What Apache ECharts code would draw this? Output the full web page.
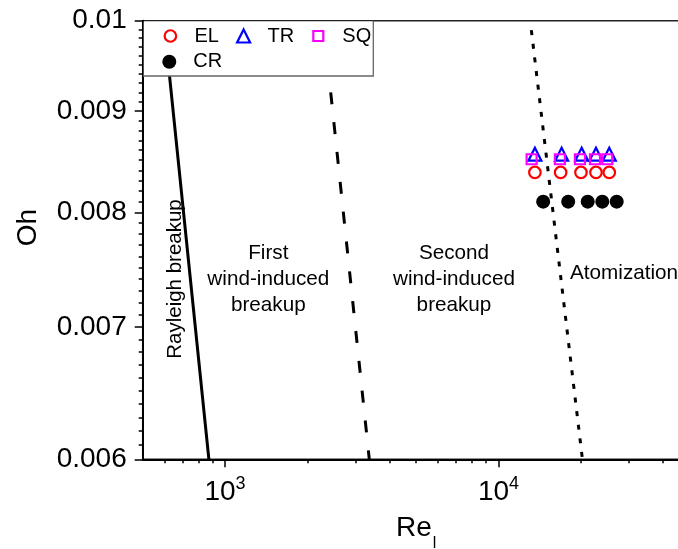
<!DOCTYPE html>
<html>
<head>
<meta charset="utf-8">
<script src="https://cdn.jsdelivr.net/npm/echarts@6/dist/echarts.min.js"></script>
<style>
html,body{margin:0;padding:0;background:#fff;}
#chart{width:678px;height:549px;}
</style>
</head>
<body>
<div id="chart"></div>
<script>
// ---------- data ----------
const xRange = [500, 50000];
const yRange = [0.006, 0.01];

const xMajorTicks = [1000, 10000];
const xTickLabels = ['10^3', '10^4'];
const xMinorTicks = [600, 700, 800, 900, 2000, 3000, 4000, 5000, 6000, 7000, 8000, 9000, 20000, 30000, 40000];

const yMajorTicks = [0.006, 0.007, 0.008, 0.009, 0.01];
const yTickLabels = ['0.006', '0.007', '0.008', '0.009', '0.01'];
const yMinorTicks = [];
for (let i = 61; i < 100; i++) { if (i % 10 !== 0) yMinorTicks.push(i / 10000); }

const elRe = [13590, 16880, 20030, 22730, 25420];
const elOh = [0.00838, 0.00838, 0.00838, 0.00838, 0.00838];
const trRe = [13590, 17020, 20150, 22730, 25420];
const trOh = [0.00856, 0.00856, 0.00856, 0.00856, 0.00856];
const sqRe = [13220, 16770, 19860, 22540, 25000];
const sqOh = [0.00851, 0.00851, 0.00851, 0.00851, 0.00851];
const crRe = [14570, 17990, 21200, 23970, 27060];
const crOh = [0.0081, 0.0081, 0.0081, 0.0081, 0.0081];

const rayleighRe = [602, 873];
const rayleighOh = [0.0099, 0.006];
const firstWindRe = [2435, 3370];
const firstWindOh = [0.0092, 0.006];
const atomRe = [13190, 20280];
const atomOh = [0.00989, 0.006];

// ---------- helpers ----------
const FONT = "'Liberation Sans', Arial, Helvetica, sans-serif";
const zip = (a, b) => a.map((v, i) => [v, b[i]]);

const chart = echarts.init(document.getElementById('chart'), null, {renderer: 'canvas'});

function lineSeries(name, xs, ys, type) {
  return {
    type: 'line', name: name, data: zip(xs, ys), symbol: 'none', silent: true,
    z: 2, clip: true,
    lineStyle: {color: '#000', width: 3, type: type, cap: 'butt'}
  };
}

function markerStyle(color, filled) {
  return filled ? {color: color, borderWidth: 0, opacity: 1}
                : {color: 'rgba(0,0,0,0)', borderColor: color, borderWidth: 2.2, opacity: 1};
}

function scatterSeries(name, xs, ys, symbol, size, color, filled) {
  return {
    type: 'scatter', name: name, data: zip(xs, ys), symbol: symbol, symbolSize: size, z: 3,
    itemStyle: markerStyle(color, filled)
  };
}

function legendFor(name, cx, cy, size, color, filled) {
  return {
    data: [name], left: cx - size / 2, top: cy - 10, padding: 0, orient: 'horizontal',
    itemWidth: size, itemHeight: size, selectedMode: false, z: 5,
    textStyle: {fontSize: 20, fontFamily: FONT, color: '#000', lineHeight: 20,
                padding: [0, 0, 0, 24 - size / 2 - 5]},
    itemStyle: markerStyle(color, filled)
  };
}

const axisLineStyle = {color: '#000', width: 2};
const tickStyle = {color: '#000', width: 1.5};

const option = {
  animation: false,
  backgroundColor: '#fff',
  grid: {
    left: 142.7, right: -11.6, top: 20.7, bottom: 89.7,
    outerBoundsMode: 'none', containLabel: false,
    show: true, borderColor: '#222', borderWidth: 1.5, backgroundColor: 'rgba(0,0,0,0)'
  },
  xAxis: [
    {
      type: 'log', logBase: 10, min: xRange[0], max: xRange[1], position: 'bottom',
      axisLine: {show: true, onZero: false, lineStyle: axisLineStyle},
      axisTick: {show: true, customValues: xMajorTicks, length: 8, lineStyle: tickStyle},
      minorTick: {show: false},
      splitLine: {show: false},
      axisLabel: {
        customValues: xMajorTicks, margin: 16,
        formatter: function (v) {
          const i = xMajorTicks.findIndex(t => Math.abs(t - v) / t < 1e-6);
          if (i < 0) return '';
          const parts = xTickLabels[i].split('^');
          return '{b|' + parts[0] + '}{s|' + parts[1] + '}';
        },
        rich: {
          b: {fontSize: 28, lineHeight: 28, fontFamily: FONT, color: '#000', verticalAlign: 'top', padding: [3, 0, 0, 0]},
          s: {fontSize: 18, lineHeight: 18, fontFamily: FONT, color: '#000', verticalAlign: 'top'}
        }
      },
      name: '{a|Re}{b|l}', nameLocation: 'middle', nameGap: 55,
      nameTextStyle: {
        rich: {
          a: {fontSize: 28, lineHeight: 28, fontFamily: FONT, color: '#000', verticalAlign: 'top'},
          b: {fontSize: 16, lineHeight: 16, fontFamily: FONT, color: '#000', verticalAlign: 'top', padding: [21, 0, 0, 1]}
        }
      }
    },
    {
      type: 'log', logBase: 10, min: xRange[0], max: xRange[1], position: 'bottom', offset: 0,
      axisLine: {show: false, onZero: false},
      axisTick: {show: true, customValues: xMinorTicks, length: 4, lineStyle: tickStyle},
      axisLabel: {show: false},
      splitLine: {show: false}
    }
  ],
  yAxis: [
    {
      type: 'log', logBase: 10, min: yRange[0], max: yRange[1], position: 'left',
      axisLine: {show: true, onZero: false, lineStyle: axisLineStyle},
      axisTick: {show: true, customValues: yMajorTicks, length: 8, lineStyle: tickStyle},
      minorTick: {show: false},
      splitLine: {show: false},
      axisLabel: {
        customValues: yMajorTicks, margin: 16, fontSize: 28, fontFamily: FONT, color: '#000',
        formatter: function (v) {
          const i = yMajorTicks.findIndex(t => Math.abs(t - v) / t < 1e-6);
          return i < 0 ? '' : yTickLabels[i];
        }
      },
      name: 'Oh', nameLocation: 'middle', nameGap: 100.5,
      nameTextStyle: {fontSize: 28, fontFamily: FONT, color: '#000', lineHeight: 28, padding: [0, 0, 0, 25]}
    },
    {
      type: 'log', logBase: 10, min: yRange[0], max: yRange[1], position: 'left', offset: 0,
      axisLine: {show: false, onZero: false},
      axisTick: {show: true, customValues: yMinorTicks, length: 4, lineStyle: tickStyle},
      axisLabel: {show: false},
      splitLine: {show: false}
    }
  ],
  legend: [
    legendFor('EL', 169.3, 36, 11.5, '#ff0000', false),
    legendFor('TR', 242.5, 36, 13, '#0000ff', false),
    legendFor('SQ', 317.2, 36, 10, '#ff00ff', false),
    legendFor('CR', 169.3, 61.7, 14, '#000000', true)
  ],
  series: [
    lineSeries('Rayleigh limit', rayleighRe, rayleighOh, 'solid'),
    lineSeries('First wind-induced limit', firstWindRe, firstWindOh, [12, 18]),
    lineSeries('Atomization limit', atomRe, atomOh, [5, 8.7]),
    scatterSeries('EL', elRe, elOh, 'circle', 11.5, '#ff0000', false),
    scatterSeries('TR', trRe, trOh, 'triangle', 13, '#0000ff', false),
    scatterSeries('SQ', sqRe, sqOh, 'rect', 10, '#ff00ff', false),
    scatterSeries('CR', crRe, crOh, 'circle', 14, '#000000', true)
  ],
  graphic: [
    {type: 'rect', z: 3, silent: true, shape: {x: 143.7, y: 21.5, width: 229.6, height: 54.5}, style: {fill: '#fff', stroke: null}},
    {type: 'polyline', z: 3, silent: true, shape: {points: [[373.3, 20.7], [373.3, 76], [143, 76]]}, style: {fill: null, stroke: '#666', lineWidth: 1.3}},
    {type: 'text', z: 4, silent: true, x: 175, y: 279, rotation: Math.PI / 2,
      style: {text: 'Rayleigh breakup', font: '20.5px ' + FONT, fill: '#000', textAlign: 'center', textVerticalAlign: 'middle'}},
    {type: 'text', z: 4, silent: true, x: 268.3, y: 253.5, style: {text: 'First', font: '20.7px ' + FONT, fill: '#000', textAlign: 'center', textVerticalAlign: 'middle'}},
    {type: 'text', z: 4, silent: true, x: 268.3, y: 279.3, style: {text: 'wind-induced', font: '20.7px ' + FONT, fill: '#000', textAlign: 'center', textVerticalAlign: 'middle'}},
    {type: 'text', z: 4, silent: true, x: 268.3, y: 305.1, style: {text: 'breakup', font: '20.7px ' + FONT, fill: '#000', textAlign: 'center', textVerticalAlign: 'middle'}},
    {type: 'text', z: 4, silent: true, x: 454, y: 253.5, style: {text: 'Second', font: '20.7px ' + FONT, fill: '#000', textAlign: 'center', textVerticalAlign: 'middle'}},
    {type: 'text', z: 4, silent: true, x: 454, y: 279.3, style: {text: 'wind-induced', font: '20.7px ' + FONT, fill: '#000', textAlign: 'center', textVerticalAlign: 'middle'}},
    {type: 'text', z: 4, silent: true, x: 454, y: 305.1, style: {text: 'breakup', font: '20.7px ' + FONT, fill: '#000', textAlign: 'center', textVerticalAlign: 'middle'}},
    {type: 'text', z: 4, silent: true, x: 570, y: 273, style: {text: 'Atomization', font: '20.7px ' + FONT, fill: '#000', textAlign: 'left', textVerticalAlign: 'middle'}}
  ]
};

chart.setOption(option);
</script>
</body>
</html>
